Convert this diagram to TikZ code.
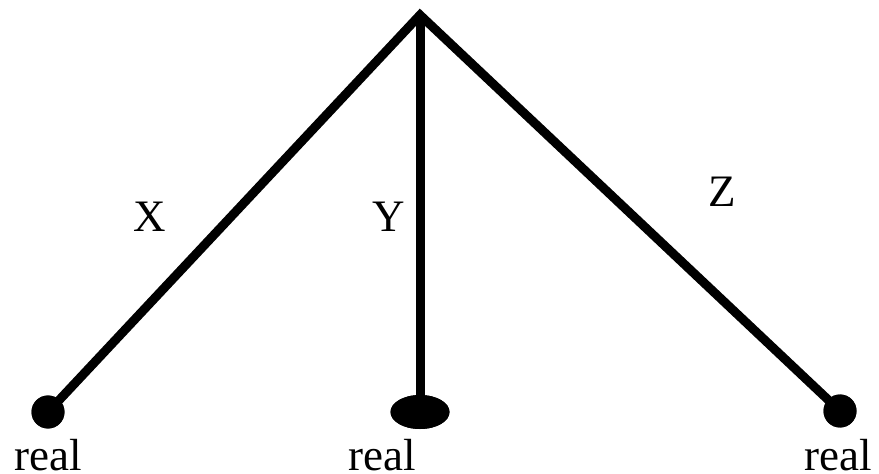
\documentclass[tikz,border=0pt]{standalone}
\usepackage{fontspec}
\setmainfont{Liberation Serif}
\usetikzlibrary{shapes.geometric}
\begin{document}
\begin{tikzpicture}[x=1bp,y=-1bp,
  edge/.style={line width=9bp,line join=miter},
  dot/.style={circle,fill=black,inner sep=0pt,minimum size=33bp},
  bigdot/.style={ellipse,fill=black,inner sep=0pt,minimum width=59bp,minimum height=34bp},
  lbl/.style={font=\fontsize{45bp}{50bp}\selectfont,inner sep=0pt,anchor=base}]
\useasboundingbox (0,0) rectangle (879,474);
\coordinate (top) at (420,15);
\node[dot] (l) at (48,412) {};
\node[bigdot] (m) at (420,412) {};
\node[dot] (r) at (840,411) {};
\draw[edge] (l.center) -- (top) -- (r.center);
\draw[edge] (top) -- (m.center);
\node[dot] at (l) {};
\node[bigdot] at (m) {};
\node[dot] at (r) {};
\node[lbl] (rl) at (48,470) {real};
\node[lbl] (rm) at (382,470) {real};
\node[lbl] (rr) at (838,470) {real};
\node[lbl] (x) at (149.5,232) {X};
\node[lbl] (y) at (389,232) {Y};
\node[lbl] (z) at (722.5,207) {Z};
\end{tikzpicture}
\end{document}
